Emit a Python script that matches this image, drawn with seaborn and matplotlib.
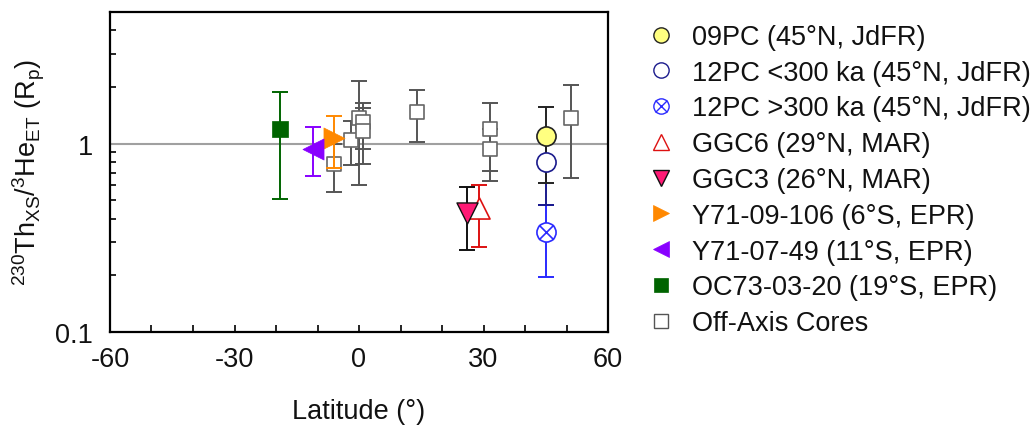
import numpy as np
import pandas as pd
import matplotlib
matplotlib.use("Agg")
import matplotlib.pyplot as plt
from matplotlib.lines import Line2D
from matplotlib.ticker import FixedLocator, NullFormatter, MultipleLocator
import seaborn as sns

# ---------------- data ----------------
pc09_lat = [45]; pc09_val = [1.10]; pc09_lo = [0.62]; pc09_hi = [1.57]
pc12a_lat = [45]; pc12a_val = [0.80]; pc12a_lo = [0.475]; pc12a_hi = [1.05]
pc12b_lat = [45]; pc12b_val = [0.34]; pc12b_lo = [0.196]; pc12b_hi = [0.475]
ggc6_lat = [29]; ggc6_val = [0.455]; ggc6_lo = [0.284]; ggc6_hi = [0.605]
ggc3_lat = [26]; ggc3_val = [0.428]; ggc3_lo = [0.273]; ggc3_hi = [0.588]
y106_lat = [-6]; y106_val = [1.07]; y106_lo = [0.74]; y106_hi = [1.41]
y49_lat = [-11]; y49_val = [0.94]; y49_lo = [0.67]; y49_hi = [1.22]
oc73_lat = [-19]; oc73_val = [1.20]; oc73_lo = [0.51]; oc73_hi = [1.89]
off_lat = [-6, -2, 0, 1, 1, 14, 31.5, 31.5, 51]
off_val = [0.776, 1.05, 1.37, 1.30, 1.17, 1.47, 1.19, 0.94, 1.37]
off_lo = [0.553, 0.77, 0.60, 0.78, 0.94, 1.02, 0.716, 0.63, 0.66]
off_hi = [1.00, 1.32, 2.14, 1.65, 1.55, 1.92, 1.65, 1.20, 2.06]

labels = ["09PC (45°N, JdFR)", "12PC <300 ka (45°N, JdFR)", "12PC >300 ka (45°N, JdFR)",
          "GGC6 (29°N, MAR)", "GGC3 (26°N, MAR)", "Y71-09-106 (6°S, EPR)",
          "Y71-07-49 (11°S, EPR)", "OC73-03-20 (19°S, EPR)", "Off-Axis Cores"]
xticks = [-60, -30, 0, 30, 60]

# ---------------- style ----------------
sns.set_theme(style="ticks")
FS = 19.5
plt.rcParams["font.family"] = ["Liberation Sans", "DejaVu Sans"]
plt.rcParams["mathtext.fontset"] = "custom"
plt.rcParams["mathtext.rm"] = "Liberation Sans"
plt.rcParams["mathtext.it"] = "Liberation Sans:italic"
plt.rcParams["font.size"] = FS

fig = plt.figure(figsize=(10.34, 4.27), dpi=100)
ax = fig.add_axes([110/1034, 1-333/427, (608-110)/1034, (333-13)/427])

ax.axhline(1.0, color="#a0a0a0", lw=1.5, zorder=1)

def errs(lat, val, lo, hi, color, z=2):
    v = np.array(val); l = np.array(lo); h = np.array(hi)
    ax.errorbar(lat, v, yerr=[v - l, h - v], fmt="none", ecolor=color,
                elinewidth=1.4, capsize=6, capthick=1.4, zorder=z)

def pts(lat, val, marker, s, face, edge, lw=1.0, z=3):
    df = pd.DataFrame({"lat": lat, "val": val})
    sns.scatterplot(data=df, x="lat", y="val", marker=marker, s=s, color=face,
                    edgecolor=edge, linewidth=lw, ax=ax, zorder=z, legend=False)

# off-axis cores
errs(off_lat, off_val, off_lo, off_hi, "#555555", z=2)
pts(off_lat, off_val, "s", 110, "white", "#666666", lw=1.2, z=3)

# on-axis
S_C = 190
errs(pc12b_lat, pc12b_val, pc12b_lo, pc12b_hi, "#2a2aff", z=4)
errs(pc12a_lat, pc12a_val, pc12a_lo, pc12a_hi, "#1a1a8c", z=4)
errs(pc09_lat, pc09_val, pc09_lo, pc09_hi, "#222222", z=4)
pts(pc12b_lat, pc12b_val, "o", S_C, "white", "#2a2aff", lw=1.2, z=5)
pts(pc12b_lat, pc12b_val, "x", S_C*0.6, "#2a2aff", "#2a2aff", lw=1.2, z=6)
pts(pc12a_lat, pc12a_val, "o", S_C, "white", "#1a1a8c", lw=1.2, z=5)
pts(pc09_lat, pc09_val, "o", S_C, "#ffff80", "#222222", lw=1.2, z=5)

errs(ggc6_lat, ggc6_val, ggc6_lo, ggc6_hi, "#dd1111", z=4)
pts(ggc6_lat, ggc6_val, "^", 230, "white", "#dd1111", lw=1.2, z=5)
errs(ggc3_lat, ggc3_val, ggc3_lo, ggc3_hi, "#111111", z=4)
pts(ggc3_lat, ggc3_val, "v", 230, "#ff1a75", "#111111", lw=1.0, z=5)

errs(y106_lat, y106_val, y106_lo, y106_hi, "#ff8800", z=4)
pts(y106_lat, y106_val, ">", 230, "#ff8800", "#ff8800", lw=0.5, z=5)
errs(y49_lat, y49_val, y49_lo, y49_hi, "#8800ff", z=4)
pts(y49_lat, y49_val, "<", 230, "#8800ff", "#8800ff", lw=0.5, z=5)
errs(oc73_lat, oc73_val, oc73_lo, oc73_hi, "#006400", z=4)
pts(oc73_lat, oc73_val, "s", 130, "#006400", "#006400", lw=0.5, z=5)

# axes
ax.set_yscale("log")
ax.set_ylim(0.1, 5.0)
ax.set_xlim(-60, 60)
ax.set_yticks([0.1, 1])
ax.set_yticklabels(["0.1", "1"])
ax.yaxis.set_minor_locator(FixedLocator([0.2, 0.3, 0.4, 0.5, 0.6, 0.7, 0.8, 0.9, 2, 3, 4, 5]))
ax.yaxis.set_minor_formatter(NullFormatter())
ax.set_xticks(xticks)
ax.set_xticklabels([str(t) for t in xticks])
ax.xaxis.set_minor_locator(MultipleLocator(10))
ax.tick_params(axis="both", which="both", direction="in", color="black",
               labelsize=FS, labelcolor="#111111")
ax.tick_params(axis="y", which="major", length=7, width=1.3, pad=12)
ax.tick_params(axis="y", which="minor", length=4, width=1.2)
ax.tick_params(axis="x", which="major", length=5, width=1.2, pad=10)
ax.tick_params(axis="x", which="minor", length=5, width=1.2)
for sp in ax.spines.values():
    sp.set_visible(True)
    sp.set_color("black")
    sp.set_linewidth(1.6)

ax.set_xlabel("Latitude (°)", fontsize=FS, labelpad=19, color="#111111")
ax.set_ylabel(r"$\mathregular{^{230}Th_{XS}/^{3}He_{ET}\ (R_p)}$", fontsize=FS,
              labelpad=6, color="#111111")

# legend
def h(marker, face, edge, ms, mew=1.0):
    return Line2D([], [], linestyle="none", marker=marker, markersize=ms,
                  markerfacecolor=face, markeredgecolor=edge, markeredgewidth=mew)

handles = [
    h("o", "#ffff80", "#222222", 11),
    h("o", "white", "#1a1a8c", 11),
    (h("o", "white", "#2a2aff", 11), h("x", "#2a2aff", "#2a2aff", 8.5)),
    h("^", "white", "#dd1111", 12),
    h("v", "#ff1a75", "#111111", 12),
    h(">", "#ff8800", "#ff8800", 12, 0.5),
    h("<", "#8800ff", "#8800ff", 12, 0.5),
    h("s", "#006400", "#006400", 9.5, 0.5),
    h("s", "white", "#555555", 9.5, 1.0),
]
fig.legend(handles, labels, loc="upper left", bbox_to_anchor=(647.5/1034, 1-25/427),
           frameon=False, fontsize=FS, handlelength=1.0, handletextpad=0.65,
           labelspacing=0.36, borderpad=0, borderaxespad=0, labelcolor="#111111")

fig.savefig("out.png", dpi=100)
